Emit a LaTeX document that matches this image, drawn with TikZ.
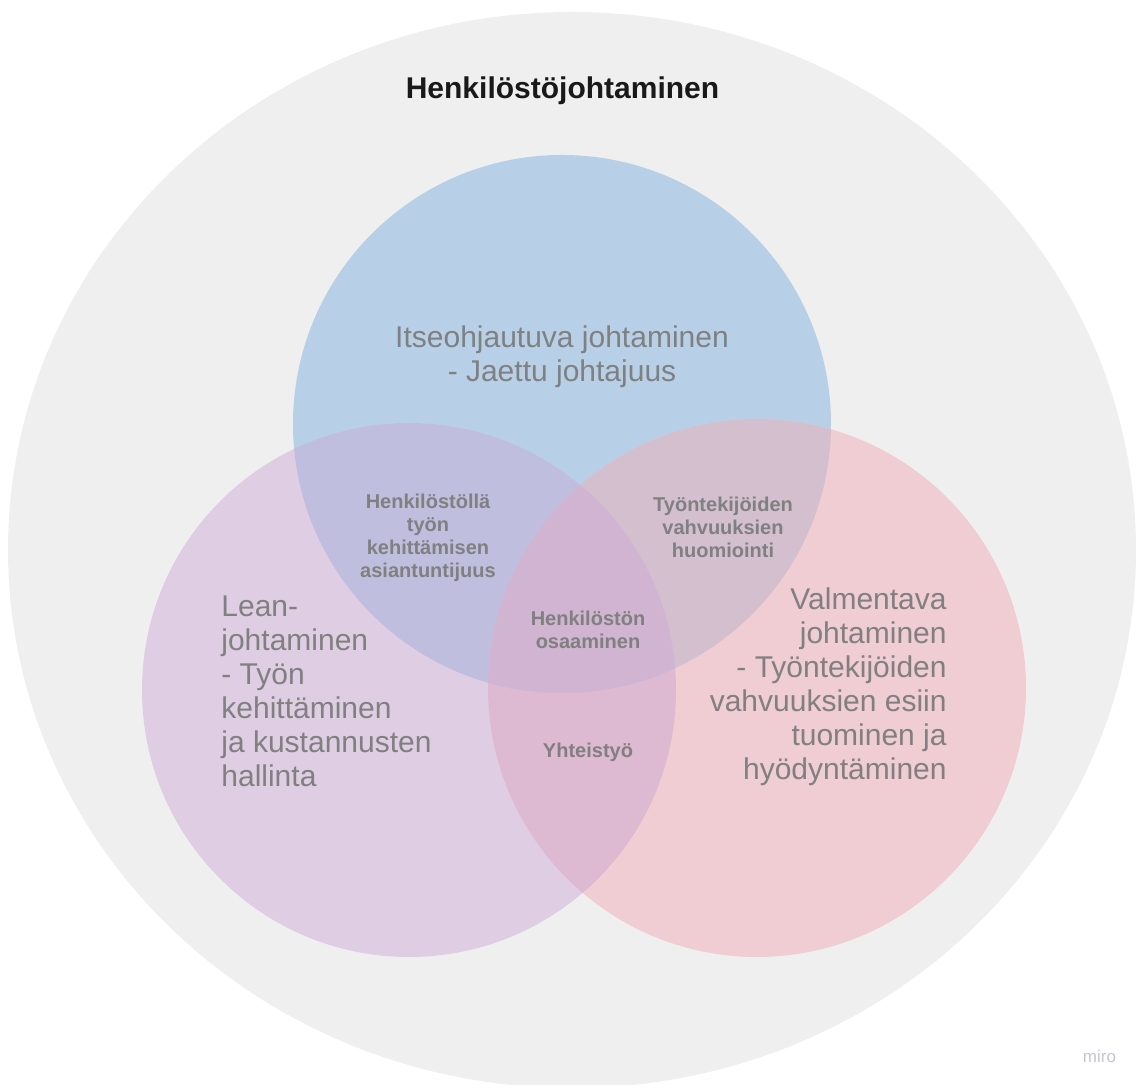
\documentclass[tikz,border=0pt]{standalone}
\usepackage{fontspec}
\setmainfont{Liberation Sans}
\definecolor{bgcol}{HTML}{EFEFEF}
\definecolor{bluecol}{HTML}{B7D0E7}
\definecolor{purplecol}{HTML}{DFCDE3}
\definecolor{pinkcol}{HTML}{EFCDD3}
\definecolor{bpcol}{HTML}{BFBEDE}
\definecolor{bkcol}{HTML}{D3BFCE}
\definecolor{pkcol}{HTML}{DDB9D2}
\definecolor{allcol}{HTML}{D0B4D2}
\definecolor{txtgrey}{HTML}{808080}
\definecolor{mirocol}{HTML}{C4C4D4}

\begin{document}
\begin{tikzpicture}[x=0.5pt, y=0.5pt,
  bigtext/.style={font=\fontsize{15}{17}\selectfont, text=txtgrey, inner sep=0pt},
  smalltext/.style={font=\bfseries\fontsize{10}{11.5}\selectfont, text=txtgrey, align=center, inner sep=0pt}]
\useasboundingbox (0,0) rectangle (1136,1085);
\coordinate (outer) at (572,535);
\coordinate (itse) at (562,661);
\coordinate (lean) at (409,395);
\coordinate (valm) at (757,397);

\fill[bgcol] (outer) ellipse [x radius=564, y radius=538];
\fill[bluecol] (itse) circle [radius=269];
\fill[purplecol] (lean) circle [radius=267];
\fill[pinkcol] (valm) circle [radius=269];
\begin{scope}
\clip (lean) circle [radius=267];
\fill[pkcol] (valm) circle [radius=269];
\end{scope}
\begin{scope}
\clip (itse) circle [radius=269];
\fill[bpcol] (lean) circle [radius=267];
\fill[bkcol] (valm) circle [radius=269];
\clip (lean) circle [radius=267];
\fill[allcol] (valm) circle [radius=269];
\end{scope}

\node[anchor=base, font=\bfseries\fontsize{15}{18}\selectfont, text={black!90}, inner sep=0pt] (title) at (562.5,986) {Henkilöstöjohtaminen};

\node[bigtext, align=center] (itsetext) at (562,728) {Itseohjautuva johtaminen\\- Jaettu johtajuus};
\node[bigtext, align=left, anchor=west] (leantext) at (221,393.5) {Lean-\\johtaminen\\- Työn\\kehittäminen\\ja kustannusten\\hallinta};
\node[bigtext, align=right, anchor=east] (valmtext) at (947,398) {Valmentava\\johtaminen\\- Työntekijöiden\\vahvuuksien esiin\\tuominen ja\\hyödyntäminen};

\node[smalltext] (asiantuntijuus) at (428,547) {Henkilöstöllä\\työn\\kehittämisen\\asiantuntijuus};
\node[smalltext] (vahvuudet) at (723,558) {Työntekijöiden\\vahvuuksien\\huomiointi};
\node[smalltext] (osaaminen) at (588,455.5) {Henkilöstön\\osaaminen};
\node[smalltext, anchor=base] (yhteistyo) at (588,327) {Yhteistyö};

\node[anchor=base, font=\fontsize{8.5}{10}\selectfont, text=mirocol, inner sep=0pt] (miro) at (1099.5,22) {miro};
\end{tikzpicture}
\end{document}
